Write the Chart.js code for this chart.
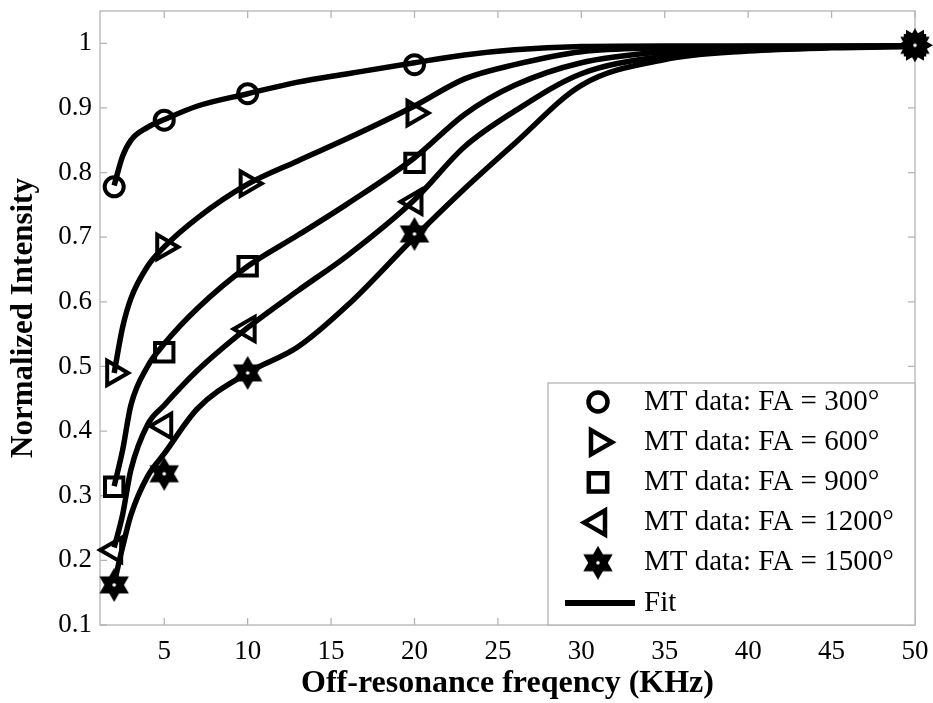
<!DOCTYPE html>
<html>
<head>
<meta charset="utf-8">
<script src="https://cdn.jsdelivr.net/npm/chart.js@4/dist/chart.umd.min.js"></script>
<style>
  html, body { margin: 0; padding: 0; background: #fff; }
</style>
</head>
<body>
<canvas id="mtChart" width="933" height="703"></canvas>
<script>
// measured MT data points
var dataX = [2, 5, 10, 20, 50];
var fa300 = [0.778, 0.881, 0.922, 0.967, 0.997];
var fa600 = [0.49, 0.685, 0.783, 0.892, 0.997];
var fa900 = [0.314, 0.522, 0.655, 0.815, 0.997];
var fa1200 = [0.216, 0.408, 0.558, 0.755, 0.997];
var fa1500 = [0.162, 0.334, 0.49, 0.705, 0.997];

// fit curves
var fitX = [2, 2.5, 3, 4, 5, 7, 10, 13, 16, 20, 23, 26, 30, 35, 40, 45, 50];
var fit300 = [0.78, 0.825, 0.85, 0.87, 0.882, 0.903, 0.922, 0.94, 0.953, 0.97, 0.982, 0.99, 0.995, 0.996, 0.996, 0.996, 0.996];
var fit600 = [0.49, 0.56, 0.605, 0.655, 0.685, 0.73, 0.782, 0.818, 0.853, 0.903, 0.945, 0.967, 0.987, 0.993, 0.995, 0.995, 0.996];
var fit900 = [0.315, 0.37, 0.44, 0.5, 0.535, 0.59, 0.655, 0.703, 0.752, 0.823, 0.89, 0.935, 0.97, 0.987, 0.993, 0.995, 0.996];
var fit1200 = [0.22, 0.27, 0.34, 0.41, 0.44, 0.494, 0.56, 0.617, 0.672, 0.758, 0.84, 0.895, 0.953, 0.98, 0.99, 0.994, 0.996];
var fit1500 = [0.165, 0.22, 0.27, 0.33, 0.365, 0.435, 0.49, 0.53, 0.595, 0.7, 0.775, 0.845, 0.935, 0.975, 0.988, 0.993, 0.995];

var seriesLabels = [
  "MT data: FA = 300°",
  "MT data: FA = 600°",
  "MT data: FA = 900°",
  "MT data: FA = 1200°",
  "MT data: FA = 1500°"
];
var fitLabel = "Fit";
var xTicks = [5, 10, 15, 20, 25, 30, 35, 40, 45, 50];
var yTicks = [0.1, 0.2, 0.3, 0.4, 0.5, 0.6, 0.7, 0.8, 0.9, 1];

var FONT = "'Liberation Serif', 'Times New Roman', serif";
var FRAME = "#b4b4b4";

function pairs(xs, ys) {
  return xs.map(function (x, i) { return { x: x, y: ys[i] }; });
}

// filled hexagram marker with a small hole in the middle
function makeHexagram(r) {
  var size = Math.ceil(r * 2 + 4);
  var c = document.createElement("canvas");
  c.width = size;
  c.height = size;
  var g = c.getContext("2d");
  var cx = size / 2, cy = size / 2;
  g.fillStyle = "#000";
  g.strokeStyle = "#000";
  g.lineWidth = 2;
  g.lineJoin = "miter";
  [0, Math.PI].forEach(function (off) {
    g.beginPath();
    for (var k = 0; k < 3; k++) {
      var a = off - Math.PI / 2 + k * 2 * Math.PI / 3;
      var px = cx + Math.cos(a) * r, py = cy + Math.sin(a) * r;
      if (k === 0) g.moveTo(px, py); else g.lineTo(px, py);
    }
    g.closePath();
    g.fill();
    g.stroke();
  });
  g.fillStyle = "#fff";
  g.beginPath();
  g.arc(cx, cy, 1.8, 0, Math.PI * 2);
  g.fill();
  return c;
}
var hexagram = makeHexagram(15);

var markerStyles = [
  { pointStyle: "circle", rotation: 0, radius: 9.5 },
  { pointStyle: "triangle", rotation: 90, radius: 14 },
  { pointStyle: "rect", rotation: 0, radius: 13 },
  { pointStyle: "triangle", rotation: -90, radius: 14 },
  { pointStyle: hexagram, rotation: 0, radius: 15 }
];

var markerData = [fa300, fa600, fa900, fa1200, fa1500];
var fitData = [fit300, fit600, fit900, fit1200, fit1500];

var datasets = [];
markerData.forEach(function (vals, i) {
  var st = markerStyles[i];
  datasets.push({
    label: seriesLabels[i],
    data: pairs(dataX, vals),
    showLine: false,
    pointStyle: st.pointStyle,
    pointRotation: st.rotation,
    pointRadius: st.radius,
    pointHoverRadius: st.radius,
    pointBorderWidth: 4,
    pointBorderColor: "#000",
    pointBackgroundColor: "rgba(0,0,0,0)",
    clip: false,
    order: 5 - i
  });
});
fitData.forEach(function (vals, i) {
  datasets.push({
    label: fitLabel,
    data: pairs(fitX, vals),
    showLine: true,
    borderColor: "#000",
    borderWidth: 5.5,
    pointRadius: 0,
    cubicInterpolationMode: "monotone",
    fill: false,
    order: 10
  });
});

// axes box with inward ticks, matlab style
var framePlugin = {
  id: "frame",
  beforeDatasetsDraw: function (chart) {
    var ctx = chart.ctx, a = chart.chartArea;
    var xs = chart.scales.x, ys = chart.scales.y;
    ctx.save();
    ctx.strokeStyle = FRAME;
    ctx.lineWidth = 1.3;
    ctx.strokeRect(a.left, a.top, a.right - a.left, a.bottom - a.top);
    ctx.beginPath();
    xTicks.forEach(function (v) {
      var px = xs.getPixelForValue(v);
      ctx.moveTo(px, a.bottom); ctx.lineTo(px, a.bottom - 7);
      ctx.moveTo(px, a.top); ctx.lineTo(px, a.top + 7);
    });
    yTicks.forEach(function (v) {
      var py = ys.getPixelForValue(v);
      ctx.moveTo(a.left, py); ctx.lineTo(a.left + 7, py);
      ctx.moveTo(a.right, py); ctx.lineTo(a.right - 7, py);
    });
    ctx.stroke();
    ctx.restore();
  }
};

// legend box sitting in the lower right corner of the axes
var legendPlugin = {
  id: "cornerLegend",
  afterDraw: function (chart) {
    var ctx = chart.ctx, a = chart.chartArea;
    var boxW = 367, boxH = 242;
    var left = a.right - boxW, top = a.bottom - boxH;
    ctx.save();
    ctx.fillStyle = "#fff";
    ctx.fillRect(left, top, boxW, boxH);
    ctx.strokeStyle = FRAME;
    ctx.lineWidth = 1.3;
    ctx.strokeRect(left, top, boxW, boxH);

    var markX = left + 50, textX = left + 96, rowY = top + 19, step = 40.2;
    ctx.font = "29px " + FONT;
    ctx.textBaseline = "middle";
    ctx.textAlign = "left";
    markerStyles.forEach(function (st, i) {
      var y = rowY + i * step;
      ctx.strokeStyle = "#000";
      ctx.lineWidth = 4.5;
      ctx.fillStyle = "rgba(0,0,0,0)";
      Chart.helpers.drawPoint(ctx, {
        pointStyle: st.pointStyle,
        rotation: st.rotation,
        radius: st.radius,
        borderWidth: 4.5
      }, markX, y);
      ctx.fillStyle = "#000";
      ctx.fillText(seriesLabels[i], textX, y);
    });
    var fy = rowY + 5 * step;
    ctx.strokeStyle = "#000";
    ctx.lineWidth = 6;
    ctx.beginPath();
    ctx.moveTo(left + 17, fy);
    ctx.lineTo(left + 87, fy);
    ctx.stroke();
    ctx.fillStyle = "#000";
    ctx.fillText(fitLabel, textX, fy);
    ctx.restore();
  }
};

Chart.defaults.font.family = FONT;
Chart.defaults.color = "#000";

var ctx = document.getElementById("mtChart").getContext("2d");
var mtChart = new Chart(ctx, {
  type: "scatter",
  data: { datasets: datasets },
  plugins: [framePlugin, legendPlugin],
  options: {
    responsive: false,
    animation: false,
    layout: {
      autoPadding: false,
      padding: { left: 0, right: 18, top: 11, bottom: 0 }
    },
    plugins: {
      legend: { display: false },
      tooltip: { enabled: false }
    },
    scales: {
      x: {
        type: "linear",
        min: 1.15,
        max: 50,
        afterBuildTicks: function (scale) {
          scale.ticks = xTicks.map(function (v) { return { value: v }; });
        },
        afterFit: function (scale) {
          scale.height = 78;
          scale.paddingLeft = 0;
          scale.paddingRight = 0;
        },
        grid: { display: false, drawTicks: false },
        border: { display: false },
        ticks: {
          autoSkip: false,
          maxRotation: 0,
          padding: 11,
          font: { size: 27 },
          callback: function (v) { return String(v); }
        },
        title: {
          display: true,
          text: "Off-resonance freqency (KHz)",
          font: { size: 32, weight: "bold" },
          padding: { top: 0, bottom: 0 }
        }
      },
      y: {
        type: "linear",
        min: 0.1,
        max: 1.05,
        afterBuildTicks: function (scale) {
          scale.ticks = yTicks.map(function (v) { return { value: v }; });
        },
        afterFit: function (scale) {
          scale.width = 100;
          scale.paddingTop = 0;
          scale.paddingBottom = 0;
        },
        grid: { display: false, drawTicks: false },
        border: { display: false },
        ticks: {
          padding: 8,
          font: { size: 27 },
          callback: function (v) { return String(v); }
        },
        title: {
          display: true,
          text: "Normalized Intensity",
          font: { size: 31, weight: "bold" },
          padding: { top: 5, bottom: 0 }
        }
      }
    }
  }
});
</script>
</body>
</html>
